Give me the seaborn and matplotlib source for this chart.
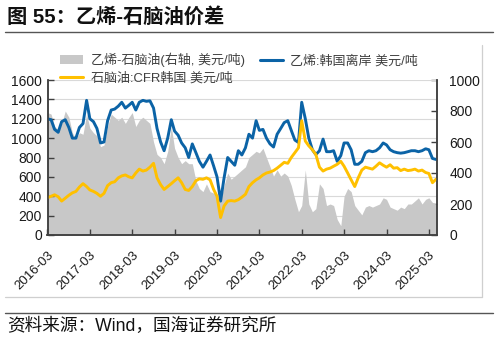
import numpy as np
import pandas as pd
import matplotlib
matplotlib.use("Agg")
import matplotlib.pyplot as plt
from matplotlib.lines import Line2D
from matplotlib.patches import Patch
from matplotlib.ticker import MultipleLocator
import seaborn as sns

# ---------------- data (monthly, from 2016-03) ----------------
start_month = "2016-03-01"

ethylene = [
    1200, 1190, 1090, 1060, 1170, 1190, 1110, 1000, 1000, 1110, 1150, 1390,
    1200, 1170, 1100, 950, 960, 1180, 1290, 1300, 1330, 1370, 1310, 1340,
    1370, 1290, 1370, 1390, 1380, 1385, 1310, 1100, 960, 870, 1000, 1190,
    1073, 1030, 950, 900, 800, 940, 850, 760, 700, 760, 826, 712,
    600, 350, 590, 800, 760, 720, 870, 826, 900, 1040, 1000, 1180,
    1080, 1090, 1000, 940, 908, 1040, 1100, 1160, 1180, 1080, 980, 955,
    1370, 1200, 1000, 880, 830, 870, 990, 860, 860, 870, 760, 820,
    950, 950, 880, 730, 730, 760, 850, 870, 860, 870, 900, 950,
    930, 880, 860, 850, 845, 850, 860, 870, 870, 860, 870, 890,
    880, 790, 780,
]

naphtha = [
    385, 400, 415, 395, 350, 380, 410, 435, 450, 495, 530, 500,
    465, 450, 430, 400, 430, 510, 540, 550, 590, 610, 620, 600,
    590, 640, 680, 660, 670, 700, 740, 590, 520, 470, 500, 530,
    560, 590, 540, 470, 460, 500, 560, 580, 575, 590, 570, 470,
    400, 180, 300, 350, 355, 350, 365, 390, 420, 500, 540, 570,
    590, 620, 640, 650, 665, 690, 720, 750, 740, 800, 850, 900,
    1180, 970, 920, 880, 830, 700, 660, 680, 690, 710, 730, 760,
    710, 640, 570, 500, 590, 670, 700, 690, 680, 710, 745, 720,
    700, 725, 690, 695, 665, 680, 665, 670, 680, 660, 670, 645,
    635, 540, 575,
]

spread = [
    790, 780, 700, 680, 720, 800, 760, 660, 620, 660, 650, 780,
    690, 660, 640, 570, 580, 700, 780, 760, 740, 760, 720, 760,
    790, 700, 740, 760, 740, 720, 600, 520, 500, 460, 540, 700,
    560, 500, 460, 480, 460, 460, 350, 300, 280, 330, 280, 270,
    260, 220, 320, 400, 360, 380, 400, 420, 440, 500, 520, 540,
    530, 560, 500, 440, 380, 420, 380, 400, 380, 320, 230, 150,
    190, 420, 200, 150, 170, 330, 300, 190, 200, 190, 100, 60,
    250, 300, 280, 190, 160, 130, 180, 190, 180, 190, 200, 240,
    230, 180, 170, 160, 180, 170, 200, 200, 220, 240, 200, 230,
    240, 210, 200,
]

x_tick_labels = ["2016-03", "2017-03", "2018-03", "2019-03", "2020-03",
                 "2021-03", "2022-03", "2023-03", "2024-03", "2025-03"]
left_ticks = [0, 200, 400, 600, 800, 1000, 1200, 1400, 1600]
right_ticks = [0, 200, 400, 600, 800, 1000]

label_spread = "乙烯-石脑油(右轴, 美元/吨)"
label_eth = "乙烯:韩国离岸 美元/吨"
label_nap = "石脑油:CFR韩国 美元/吨"
title_text = "图 55：乙烯-石脑油价差"
source_text = "资料来源：Wind，国海证券研究所"

# ---------------- style ----------------
sns.set_theme(style="white")
plt.rcParams["font.family"] = ["Liberation Sans", "Noto Sans CJK SC"]
plt.rcParams["axes.unicode_minus"] = False

BLUE = "#0b63a6"
YELLOW = "#ffc000"
GRAY = "#c8c8c8"
GRID = "#d9d9d9"
SPINE = "#404040"
TXT = "#1a1a1a"

dates = pd.date_range(start_month, periods=len(ethylene), freq="MS")
df = pd.DataFrame({"date": dates, "eth": ethylene, "nap": naphtha, "spread": spread})

W, H = 498, 341
fig = plt.figure(figsize=(W / 100, H / 100), dpi=100)
fig.patch.set_facecolor("white")

ax = fig.add_axes([47.5 / W, 1 - 235 / H, (437 - 47.5) / W, 155 / H])
ax2 = ax.twinx()
ax.set_zorder(2)
ax2.set_zorder(1)
ax.patch.set_visible(False)

# gray spread area on right axis
ax2.fill_between(df["date"], 0, df["spread"], color=GRAY, linewidth=0, zorder=2)

# lines on left axis
sns.lineplot(data=df, x="date", y="eth", ax=ax, color=BLUE, linewidth=2.1, legend=False)
sns.lineplot(data=df, x="date", y="nap", ax=ax, color=YELLOW, linewidth=2.1, legend=False)

ax.set_xlim(pd.Timestamp("2016-03-01"), pd.Timestamp("2025-05-10"))
ax.set_ylim(0, 1600)
ax2.set_ylim(0, 1000)
ax.set_yticks(left_ticks)
ax.set_yticklabels([str(v) for v in left_ticks])
ax2.set_yticks(right_ticks)
ax2.set_yticklabels([str(v) for v in right_ticks])
ax.set_xticks(pd.to_datetime([s + "-01" for s in x_tick_labels]))
ax.set_xticklabels(x_tick_labels, rotation=45, ha="right", rotation_mode="anchor")
ax.set_xlabel("")
ax.set_ylabel("")
ax2.set_ylabel("")

# gridlines (aligned with left ticks) drawn beneath the gray area
ax2.yaxis.set_minor_locator(MultipleLocator(125))
ax2.yaxis.remove_overlapping_locs = False
ax2.grid(which="minor", axis="y", color=GRID, linewidth=0.8, zorder=0)
ax2.grid(which="major", visible=False)
ax2.set_axisbelow(True)
ax.grid(False)

for a in (ax, ax2):
    a.spines["top"].set_visible(False)
    for s in ("left", "bottom", "right"):
        a.spines[s].set_color(SPINE)
        a.spines[s].set_linewidth(1.1)

ax.tick_params(axis="y", which="major", left=True, direction="in", length=4,
               width=1, color=SPINE, labelsize=10, labelcolor=TXT, pad=4)
ax.tick_params(axis="x", which="major", bottom=True, direction="in", length=4,
               width=1, color=SPINE, labelsize=9.5, labelcolor=TXT, pad=10)
ax2.tick_params(axis="y", which="major", right=True, direction="in", length=4,
                width=1, color=SPINE, labelsize=10, labelcolor=TXT, pad=9)
ax2.tick_params(axis="y", which="minor", length=0)

# legend
handles = [
    Patch(facecolor=GRAY, edgecolor="none", label=label_spread),
    Line2D([], [], color=YELLOW, lw=2.2, label=label_nap),
    Line2D([], [], color=BLUE, lw=2.2, label=label_eth),
]
fig.legend(handles=handles, loc="upper left", bbox_to_anchor=(60 / W, 1 - 53 / H),
           ncol=2, frameon=False, fontsize=9.4, handlelength=1.75,
           handletextpad=0.6, columnspacing=1.15, labelspacing=0.4,
           borderpad=0, borderaxespad=0, labelcolor="#404040")

# title, source and decorative rules
fig.text(7 / W, 1 - 17 / H, title_text, fontsize=14.6, fontweight="bold",
         ha="left", va="center", color="#111111")
fig.text(7 / W, 1 - 326 / H, source_text, fontsize=12.7,
         ha="left", va="center", color="#111111")
fig.add_artist(Line2D([5 / W, 493 / W], [1 - 32 / H] * 2, color="#555555",
                      lw=1.0, transform=fig.transFigure))
fig.add_artist(Line2D([5 / W, 493 / W], [1 - 313 / H] * 2, color="#555555",
                      lw=1.0, transform=fig.transFigure))
fig.add_artist(Line2D([482 / W, 482 / W], [1 - 45 / H, 1 - 297 / H], color="#cfcfcf",
                      lw=0.9, transform=fig.transFigure))
fig.add_artist(Line2D([5 / W, 482 / W], [1 - 297 / H] * 2, color="#cfcfcf",
                      lw=0.9, transform=fig.transFigure))

fig.savefig("out.png", dpi=100)
